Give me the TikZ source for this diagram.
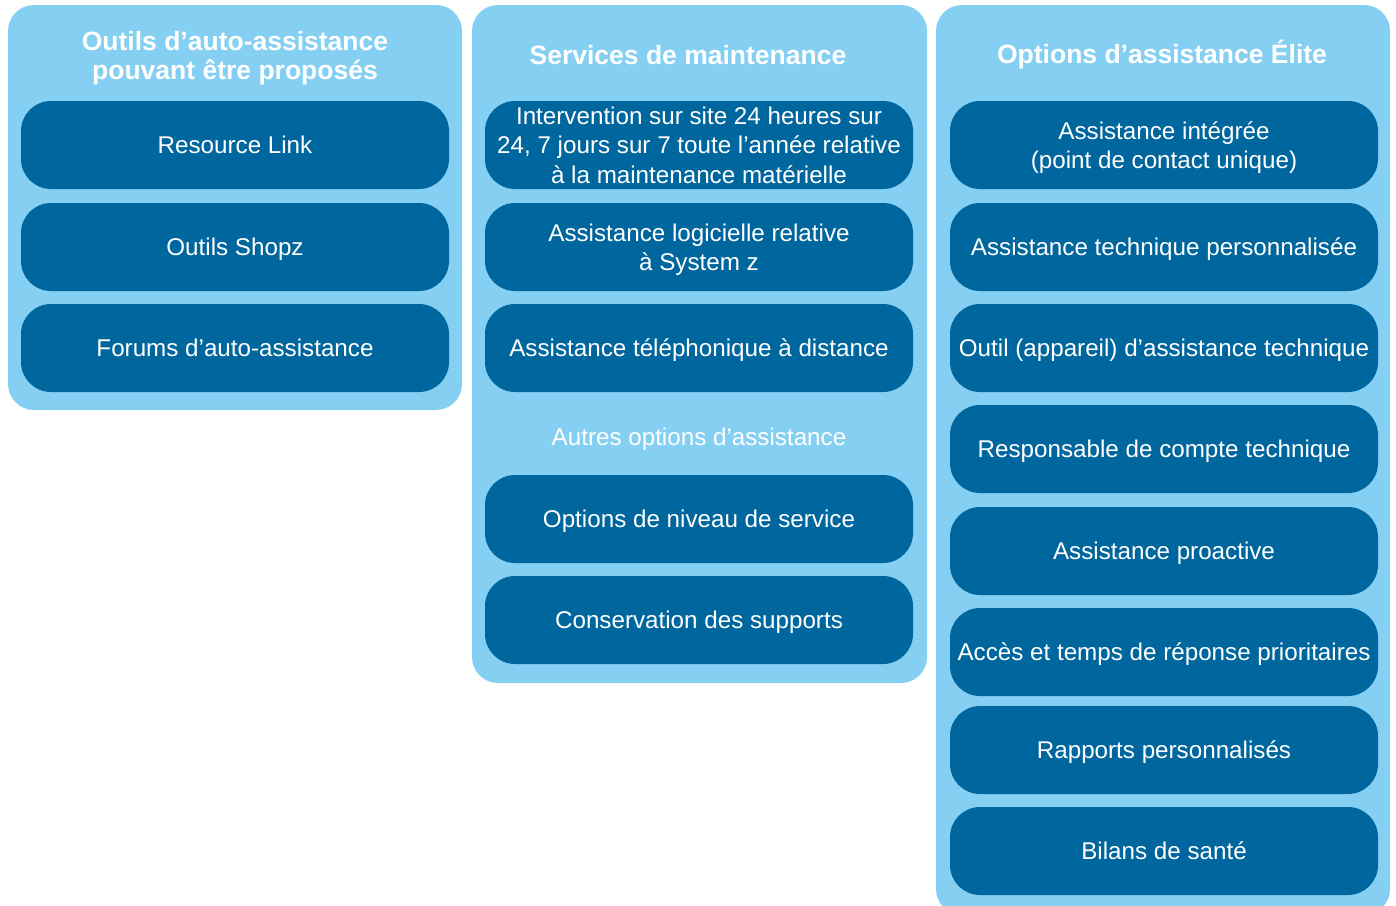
\documentclass[tikz,border=0pt]{standalone}
\usepackage{fontspec}
\setmainfont{Liberation Sans}
\definecolor{lightpanel}{HTML}{85CFF2}
\definecolor{darkbox}{HTML}{00669E}
\begin{document}
\begin{tikzpicture}[x=1pt,y=-1pt,
  panel/.style={fill=lightpanel,draw=none,rounded corners=26pt,rectangle,inner sep=0pt},
  itembox/.style={fill=darkbox,draw=none,rounded corners=30pt,rectangle,inner sep=0pt,
    minimum width=428pt,minimum height=88pt,align=center,text=white,text depth=-4pt,
    font=\fontsize{24.2}{29.5}\selectfont},
  title/.style={text=white,align=center,font=\fontsize{26.5}{29}\selectfont\bfseries,inner sep=0pt},
  subtitle/.style={text=white,align=center,text depth=0pt,font=\fontsize{24.2}{29.5}\selectfont,inner sep=0pt}]
\useasboundingbox (0,0) rectangle (1396,905);
% panels
\node[panel,minimum width=454pt,minimum height=405pt] (p1) at (235,207.5) {};
\node[panel,minimum width=455pt,minimum height=678pt] (p2) at (699.5,344) {};
\node[panel,minimum width=454pt,minimum height=910pt] (p3) at (1163,460) {};
% titles
\node[title] (t1) at (235,58.5) {Outils d’auto-assistance\\pouvant être proposés};
\node[title] (t2) at (688,55) {Services de maintenance};
\node[title] (t3) at (1162,55) {Options d’assistance Élite};
% panel 1
\node[itembox] (a1) at (235,145) {Resource Link};
\node[itembox] (a2) at (235,247) {Outils Shopz};
\node[itembox] (a3) at (235,348) {Forums d’auto-assistance};
% panel 2
\node[itembox] (b1) at (699,145) {Intervention sur site 24 heures sur\\24, 7 jours sur 7 toute l’année relative\\à la maintenance matérielle};
\node[itembox] (b2) at (699,247) {Assistance logicielle relative\\à System z};
\node[itembox] (b3) at (699,348) {Assistance téléphonique à distance};
\node[subtitle] (s2) at (699,437) {Autres options d’assistance};
\node[itembox] (b4) at (699,519) {Options de niveau de service};
\node[itembox] (b5) at (699,620) {Conservation des supports};
% panel 3
\node[itembox] (c1) at (1164,145) {Assistance intégrée\\(point de contact unique)};
\node[itembox] (c2) at (1164,247) {Assistance technique personnalisée};
\node[itembox] (c3) at (1164,348) {Outil (appareil) d’assistance technique};
\node[itembox] (c4) at (1164,449) {Responsable de compte technique};
\node[itembox] (c5) at (1164,551) {Assistance proactive};
\node[itembox] (c6) at (1164,652) {Accès et temps de réponse prioritaires};
\node[itembox] (c7) at (1164,750) {Rapports personnalisés};
\node[itembox] (c8) at (1164,851) {Bilans de santé};
\end{tikzpicture}
\end{document}
